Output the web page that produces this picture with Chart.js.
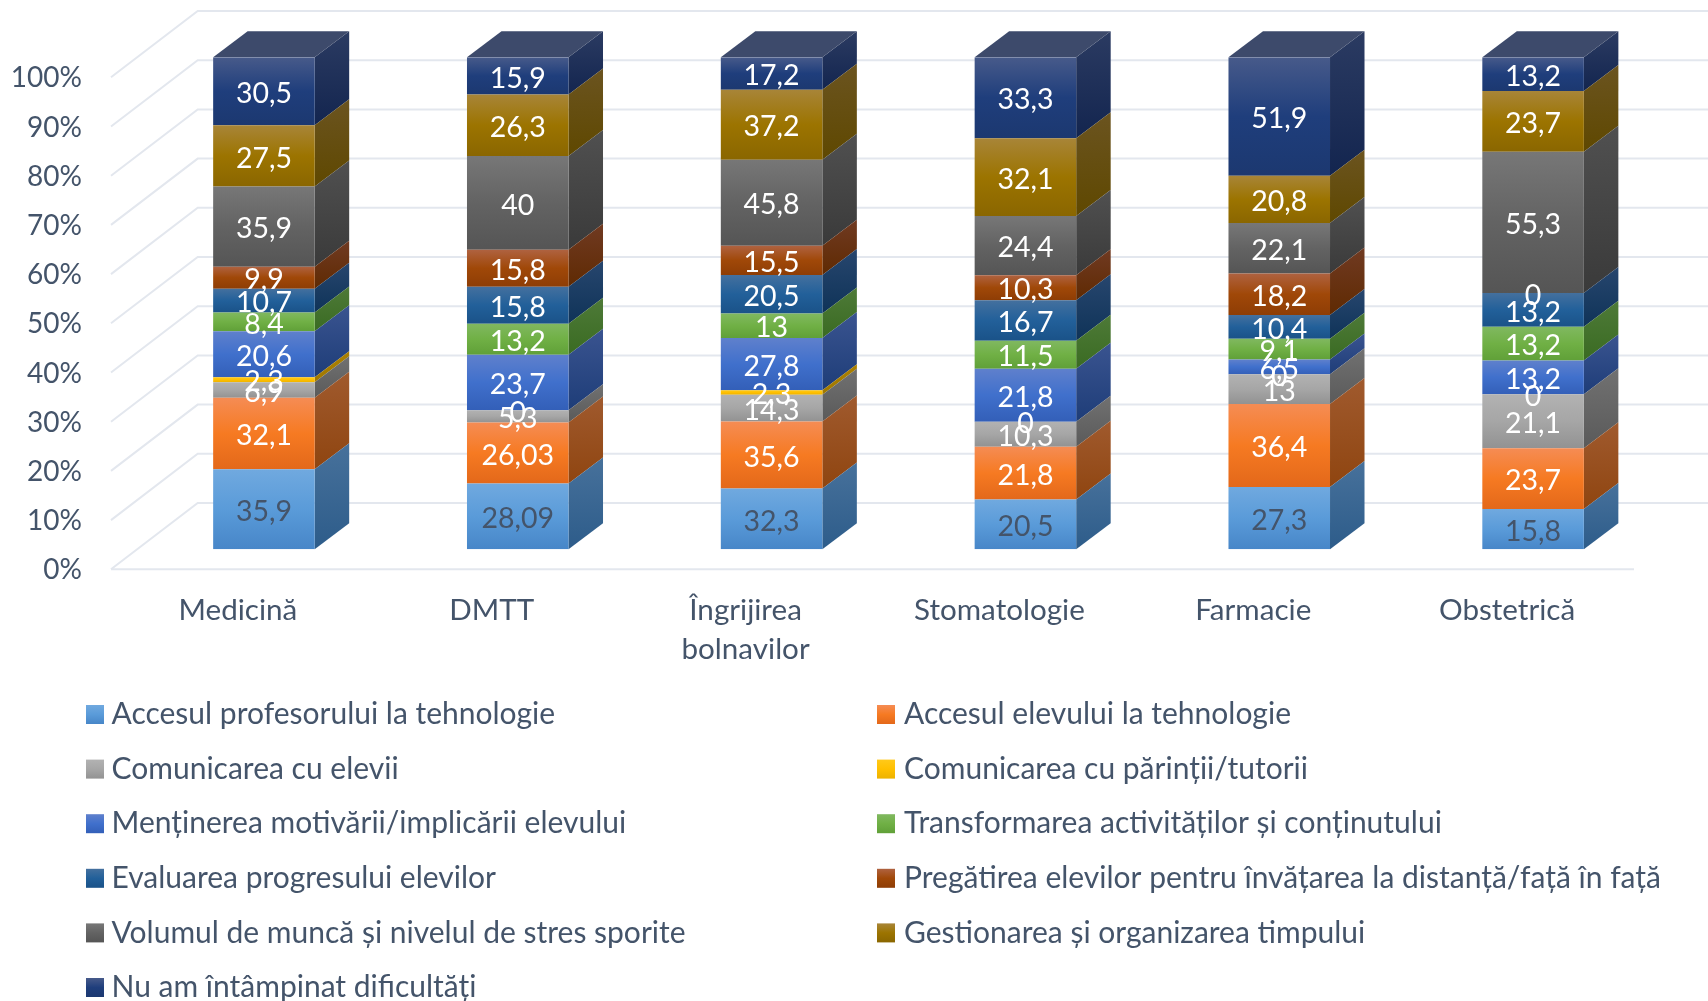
<!DOCTYPE html>
<html><head><meta charset="utf-8">
<style>html,body{margin:0;padding:0;background:#fff}canvas{display:block}</style>
<script src="https://cdn.jsdelivr.net/npm/chart.js@4"></script>
</head><body>
<canvas id="c" width="1708" height="1001"></canvas>
<script>
const categories = ["Medicină","DMTT",["Îngrijirea","bolnavilor"],"Stomatologie","Farmacie","Obstetrică"];
const seriesNames = ["Accesul profesorului la tehnologie","Accesul elevului la tehnologie","Comunicarea cu elevii","Comunicarea cu părinții/tutorii","Menținerea motivării/implicării elevului","Transformarea activităților și conținutului","Evaluarea progresului elevilor","Pregătirea elevilor pentru învățarea la distanță/față în față","Volumul de muncă și nivelul de stres sporite","Gestionarea și organizarea timpului","Nu am întâmpinat dificultăți"];
const accesProfesor = [35.9,28.09,32.3,20.5,27.3,15.8];
const accesElev = [32.1,26.03,35.6,21.8,36.4,23.7];
const comElevi = [6.9,5.3,14.3,10.3,13,21.1];
const comParinti = [2.3,0,2.3,0,0,0];
const motivare = [20.6,23.7,27.8,21.8,6.5,13.2];
const transformare = [8.4,13.2,13,11.5,9.1,13.2];
const evaluare = [10.7,15.8,20.5,16.7,10.4,13.2];
const pregatire = [9.9,15.8,15.5,10.3,18.2,0];
const volum = [35.9,40,45.8,24.4,22.1,55.3];
const gestionare = [27.5,26.3,37.2,32.1,20.8,23.7];
const faraDificultati = [30.5,15.9,17.2,33.3,51.9,13.2];
const seriesValues = [accesProfesor,accesElev,comElevi,comParinti,motivare,transformare,evaluare,pregatire,volum,gestionare,faraDificultati];
const yTicks = [0,10,20,30,40,50,60,70,80,90,100];

const faceColors = [["#70A9DF","#5A9BD9","#4786C8"],["#F58C54","#F67A22","#E3681A"],["#B2B2B2","#A6A6A6","#929292"],["#FFC91A","#FFC000","#EDB200"],["#5F80CC","#4070CC","#335FB8"],["#80B860","#70B045","#60A038"],["#44709E","#22609A","#1A5288"],["#AF6240","#A04808","#8E3D05"],["#777777","#636363","#555555"],["#A88538","#9C7400","#8A6600"],["#475A8A","#1F3E7C","#1C3870"]];
const sideColors = [["#47719B","#2D5C8A"],["#A05A2E","#8F4510"],["#717171","#5A5A5A"],["#AB8000","#A07800"],["#3A5490","#1E3D78"],["#4E7A38","#3A6B22"],["#27466E","#0F3358"],["#703A22","#5F2A02"],["#505050","#3A3A3A"],["#6B5420","#5F4800"],["#2B3B62","#13254F"]];
const capColor = "#3D4A6B";
const textColor = "#44546A";
const gridColor = "#E3E7EE";
const LABEL_FONT = "28.5px Lato";
const LEGEND_FONT = "30px Lato";
const totals = categories.map((_,i)=>seriesValues.reduce((s,a)=>s+a[i],0));
const pct = seriesValues.map(a=>a.map((v,i)=>v/totals[i]*100));

const wallDX=86.7, wallDY=66.3, barOX=26, barOY=-20, depthX=34.5, depthY=26;

function faceGradient(ctx){
  const fallback=faceColors[ctx.datasetIndex][1];
  if(ctx.type!=="data"||!ctx.chart.scales.y) return fallback;
  const y=ctx.chart.scales.y; let base=0;
  for(let k=0;k<ctx.datasetIndex;k++) base+=pct[k][ctx.dataIndex];
  const y0=y.getPixelForValue(base), y1=y.getPixelForValue(base+pct[ctx.datasetIndex][ctx.dataIndex]);
  if(!isFinite(y0)||!isFinite(y1)) return fallback;
  const g=ctx.chart.ctx.createLinearGradient(0,y1,0,Math.max(y0,y1+0.01));
  const c=faceColors[ctx.datasetIndex];
  g.addColorStop(0,c[0]);g.addColorStop(.5,c[1]);g.addColorStop(1,c[2]);
  return g;
}

const bar3d={
  id:"bar3d",
  beforeDatasetsDraw(chart){
    const {ctx,scales:{y},chartArea:a}=chart;
    ctx.save();ctx.strokeStyle=gridColor;ctx.lineWidth=2;
    yTicks.forEach(t=>{
      const py=y.getPixelForValue(t);
      ctx.beginPath();ctx.moveTo(a.left,py);ctx.lineTo(a.left+wallDX,py-wallDY);ctx.lineTo(a.right+wallDX,py-wallDY);ctx.stroke();
    });
    const p0=y.getPixelForValue(0);
    ctx.beginPath();ctx.moveTo(a.left,p0);ctx.lineTo(a.right,p0);ctx.stroke();
    ctx.restore();
  },
  beforeDatasetDraw(chart,args){
    const ctx=chart.ctx,i=args.index;
    ctx.save();ctx.translate(barOX,barOY);
    args.meta.data.forEach(b=>{
      const r=b.x+b.width/2,l=b.x-b.width/2,t=Math.min(b.y,b.base),bt=Math.max(b.y,b.base);
      if(bt-t<0.01) return;
      const g=ctx.createLinearGradient(r,t-depthY,r,bt);
      g.addColorStop(0,sideColors[i][0]);g.addColorStop(1,sideColors[i][1]);
      ctx.fillStyle=g;ctx.beginPath();ctx.moveTo(r,t);ctx.lineTo(r+depthX,t-depthY);ctx.lineTo(r+depthX,bt-depthY);ctx.lineTo(r,bt);ctx.closePath();ctx.fill();
      if(i===seriesValues.length-1){
        ctx.fillStyle=capColor;ctx.beginPath();ctx.moveTo(l,t);ctx.lineTo(r,t);ctx.lineTo(r+depthX,t-depthY);ctx.lineTo(l+depthX,t-depthY);ctx.closePath();ctx.fill();
      }
    });
  },
  afterDatasetDraw(chart){chart.ctx.restore();},
  afterDatasetsDraw(chart){
    const ctx=chart.ctx;
    ctx.save();ctx.font=LABEL_FONT;ctx.textAlign="center";ctx.textBaseline="middle";
    seriesValues.forEach((vals,i)=>{
      const meta=chart.getDatasetMeta(i);
      ctx.fillStyle=i===0?textColor:"#FFFFFF";
      vals.forEach((v,j)=>{
        const b=meta.data[j];
        ctx.fillText(String(v).replace(".",","),b.x+barOX,(b.y+b.base)/2+barOY+2.5);
      });
    });
    // legend, two columns, row by row
    ctx.textAlign="left";ctx.font=LEGEND_FONT;
    seriesNames.forEach((n,i)=>{
      const col=i%2,row=(i-col)/2;
      const cy=714.5+row*54.6, x=col?877:86;
      const g=ctx.createLinearGradient(0,cy-9.5,0,cy+9.5);
      const c=faceColors[i];g.addColorStop(0,c[0]);g.addColorStop(.5,c[1]);g.addColorStop(1,c[2]);
      ctx.fillStyle=g;ctx.fillRect(x,cy-9.5,18,19);
      ctx.fillStyle=textColor;ctx.fillText(n,x+(col?27:25.5),cy);
    });
    ctx.restore();
  }
};

new Chart(document.getElementById("c"),{
  type:"bar",
  data:{labels:categories,datasets:seriesNames.map((n,i)=>({label:n,data:pct[i],backgroundColor:faceGradient,borderWidth:0,categoryPercentage:.4,barPercentage:1}))},
  plugins:[bar3d],
  options:{
    responsive:false,animation:false,
    layout:{padding:{top:77.3,right:74,left:0,bottom:0}},
    plugins:{legend:{display:false},tooltip:{enabled:false},title:{display:false}},
    scales:{
      x:{stacked:true,grid:{display:false,drawTicks:false},border:{display:false},
        ticks:{color:textColor,font:{family:"Lato",size:29.6,lineHeight:1.32},padding:22,maxRotation:0,autoSkip:false},
        afterFit(s){s.height=1001-569.3;}},
      y:{stacked:true,min:0,max:100,grid:{display:false,drawTicks:false},border:{display:false},
        ticks:{stepSize:10,color:textColor,font:{family:"Lato",size:28},padding:29,labelOffset:1,callback:v=>v+"%"},
        afterFit(s){s.width=111;}}
    }
  }
});
</script>
</body></html>
